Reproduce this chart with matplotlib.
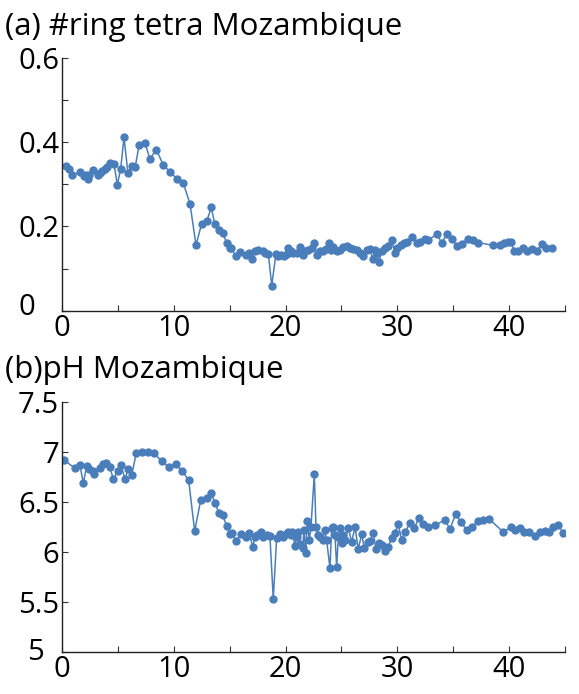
import matplotlib
matplotlib.use("Agg")
import matplotlib.pyplot as plt
from matplotlib.ticker import MultipleLocator, FixedLocator

plt.rcParams['font.family'] = ['Open Sans', 'DejaVu Sans']

# panel (a): #ring tetra vs time
ring_t = [0.33, 0.63, 0.92, 1.61, 2.00, 2.15, 2.36, 2.44, 2.74, 3.19, 3.40, 3.61, 3.85, 4.05,
          4.29, 4.65, 4.95, 5.25, 5.55, 5.90, 6.23, 6.56, 6.89, 7.42, 7.87, 8.44, 9.06, 9.69,
          10.31, 10.85, 11.45, 11.99, 12.49, 12.94, 13.36, 13.66, 14.04, 14.37, 14.73, 15.03,
          15.12, 15.53, 15.92, 16.46, 16.70, 16.97, 17.26, 17.56, 17.95, 18.16, 18.46, 18.76,
          19.14, 19.35, 19.59, 19.86, 20.10, 20.24, 20.45, 20.69, 20.99, 21.29, 21.53, 21.74,
          22.03, 22.33, 22.54, 22.78, 23.08, 23.37, 23.61, 23.85, 24.06, 24.27, 24.57, 24.87,
          25.16, 25.46, 25.76, 26.06, 26.36, 26.65, 26.89, 27.25, 27.55, 27.79, 28.00, 28.20,
          28.35, 28.60, 28.89, 29.19, 29.49, 29.78, 29.99, 30.29, 30.59, 30.89, 31.28, 31.72,
          32.02, 32.47, 32.76, 33.51, 33.96, 34.47, 34.85, 35.36, 35.75, 36.34, 36.79, 37.24,
          38.58, 39.18, 39.53, 39.92, 40.13, 40.43, 40.82, 41.26, 41.57, 42.01, 42.46, 42.91,
          43.29, 43.80]
ring_v = [0.344, 0.336, 0.322, 0.328, 0.320, 0.321, 0.312, 0.322, 0.333, 0.322, 0.326, 0.332,
          0.336, 0.340, 0.350, 0.349, 0.299, 0.336, 0.411, 0.327, 0.344, 0.342, 0.392, 0.398,
          0.360, 0.382, 0.346, 0.329, 0.312, 0.303, 0.254, 0.156, 0.206, 0.212, 0.245, 0.206,
          0.192, 0.184, 0.162, 0.149, 0.149, 0.130, 0.139, 0.132, 0.137, 0.123, 0.142, 0.145,
          0.141, 0.138, 0.135, 0.060, 0.135, 0.130, 0.133, 0.130, 0.135, 0.150, 0.141, 0.137,
          0.138, 0.152, 0.133, 0.141, 0.145, 0.150, 0.160, 0.133, 0.141, 0.143, 0.146, 0.160,
          0.145, 0.152, 0.141, 0.145, 0.152, 0.154, 0.150, 0.146, 0.145, 0.138, 0.130, 0.145,
          0.146, 0.123, 0.145, 0.137, 0.116, 0.143, 0.149, 0.154, 0.168, 0.137, 0.150, 0.157,
          0.160, 0.164, 0.176, 0.160, 0.164, 0.170, 0.167, 0.182, 0.162, 0.182, 0.170, 0.154,
          0.159, 0.171, 0.167, 0.162, 0.155, 0.155, 0.160, 0.163, 0.164, 0.142, 0.143, 0.149,
          0.143, 0.146, 0.141, 0.158, 0.149, 0.148]

# panel (b): pH vs time
ph_t = [0.18, 1.16, 1.61, 1.91, 2.21, 2.44, 2.74, 2.89, 3.40, 3.70, 3.94, 4.29, 4.59, 4.98,
        5.28, 5.64, 5.93, 6.23, 6.65, 7.13, 7.72, 8.23, 8.91, 9.57, 10.17, 10.76, 11.33, 11.87,
        12.41, 12.94, 13.36, 13.69, 14.04, 14.37, 14.73, 15.03, 15.17, 15.56, 15.98, 16.46,
        16.75, 17.06, 17.26, 17.47, 17.77, 18.01, 18.31, 18.60, 18.90, 19.20, 19.50, 19.74,
        20.04, 20.24, 20.45, 20.60, 20.84, 20.99, 21.14, 21.29, 21.53, 21.65, 21.80, 21.94,
        22.12, 22.27, 22.57, 22.72, 22.93, 23.08, 23.32, 23.52, 23.67, 23.97, 24.12, 24.27,
        24.42, 24.57, 24.72, 24.87, 25.01, 25.16, 25.31, 25.61, 25.91, 26.21, 26.50, 26.81,
        27.04, 27.40, 27.55, 27.85, 28.09, 28.35, 28.60, 28.89, 29.19, 29.49, 29.78, 30.08,
        30.38, 30.68, 31.13, 31.51, 31.93, 32.32, 32.76, 33.36, 34.26, 34.70, 35.21, 35.69,
        36.20, 36.70, 37.18, 37.68, 38.22, 39.47, 40.13, 40.52, 40.97, 41.35, 41.80, 42.31,
        42.75, 43.20, 43.59, 43.95, 44.39, 44.84]
ph_v = [6.92, 6.84, 6.87, 6.69, 6.86, 6.83, 6.81, 6.78, 6.84, 6.88, 6.89, 6.85, 6.73, 6.81,
        6.87, 6.73, 6.83, 6.77, 6.99, 7.00, 7.00, 6.99, 6.91, 6.85, 6.88, 6.81, 6.72, 6.21,
        6.52, 6.54, 6.59, 6.49, 6.39, 6.37, 6.26, 6.18, 6.19, 6.11, 6.18, 6.15, 6.19, 6.05,
        6.15, 6.17, 6.20, 6.15, 6.17, 6.16, 5.53, 6.14, 6.18, 6.15, 6.18, 6.20, 6.17, 6.20,
        6.06, 6.15, 6.20, 6.08, 6.04, 6.22, 5.99, 6.31, 6.12, 6.25, 6.78, 6.25, 6.17, 6.15,
        6.12, 6.22, 6.12, 5.84, 6.24, 6.25, 6.17, 5.85, 6.15, 6.24, 6.09, 6.17, 6.12, 6.24,
        6.10, 6.25, 6.03, 6.18, 6.04, 6.10, 6.11, 6.19, 6.03, 6.09, 6.07, 6.01, 6.05, 6.14,
        6.19, 6.28, 6.12, 6.20, 6.29, 6.24, 6.34, 6.28, 6.25, 6.27, 6.32, 6.23, 6.38, 6.30,
        6.22, 6.25, 6.31, 6.32, 6.33, 6.20, 6.25, 6.22, 6.24, 6.20, 6.20, 6.16, 6.20, 6.21,
        6.20, 6.25, 6.27, 6.19]

ring_ticks = [0, 0.2, 0.4, 0.6]
ring_labels = ['', '0.2', '0.4', '0.6']
ph_ticks = [5, 5.5, 6, 6.5, 7, 7.5]
ph_labels = ['', '5.5', '6', '6.5', '7', '7.5']

blue = '#4a7ebb'
fs = 21

fig = plt.figure(figsize=(5.79, 6.94), dpi=100)
ax1 = fig.add_axes([0.107, 0.552, 0.869, 0.365])
ax2 = fig.add_axes([0.107, 0.0605, 0.869, 0.360])

for ax in (ax1, ax2):
    for s in ('top', 'right'):
        ax.spines[s].set_visible(False)
    for s in ('left', 'bottom'):
        ax.spines[s].set_linewidth(1.0)
        ax.spines[s].set_color('#222222')
    ax.set_xlim(0, 45)
    ax.xaxis.set_major_locator(MultipleLocator(10))
    ax.xaxis.set_minor_locator(MultipleLocator(5))
    ax.tick_params(which='both', direction='in', length=4, width=0.8, color='#333333',
                   labelsize=fs, pad=2)

ax1.plot(ring_t, ring_v, '-o', color=blue, lw=1.1, ms=5, mec=blue)
ax1.set_ylim(0, 0.6)
ax1.yaxis.set_major_locator(FixedLocator(ring_ticks))
ax1.yaxis.set_minor_locator(MultipleLocator(0.1))
ax1.set_yticklabels(ring_labels)
# the bottom "0" sits a bit further left in the original
ax1.text(-0.054, 0.008, '0', transform=ax1.get_yaxis_transform(), ha='right',
         va='center', fontsize=fs)

ax2.plot(ph_t, ph_v, '-o', color=blue, lw=1.1, ms=5, mec=blue)
ax2.set_ylim(5, 7.5)
ax2.yaxis.set_major_locator(FixedLocator(ph_ticks))
ax2.set_yticklabels(ph_labels)
ax2.text(-0.036, 5.0, '5', transform=ax2.get_yaxis_transform(), ha='right',
         va='center', fontsize=fs)

fig.text(0.009, 0.950, '(a) #ring tetra Mozambique', fontsize=22.5, va='baseline')
fig.text(0.009, 0.455, '(b)pH Mozambique', fontsize=22.5, va='baseline')

fig.savefig('out.png', dpi=100)
